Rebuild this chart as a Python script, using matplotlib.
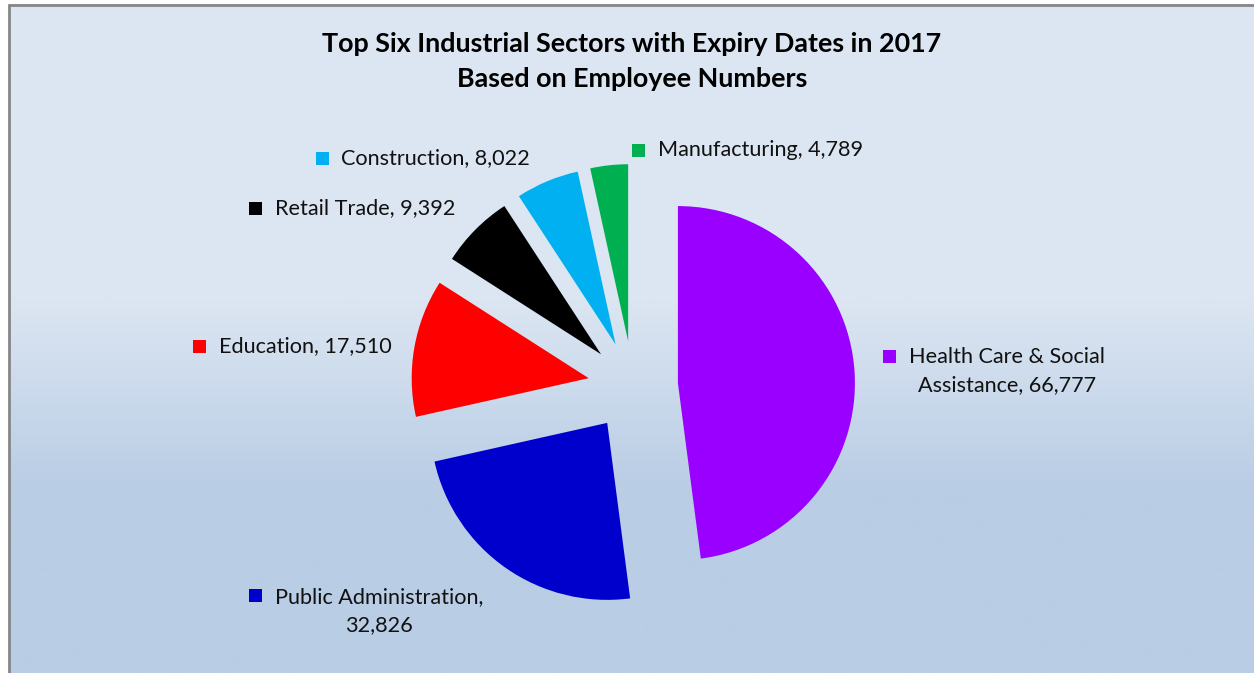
import numpy as np
import matplotlib
matplotlib.use('Agg')
import matplotlib.pyplot as plt
import matplotlib.patches as patches
from matplotlib.colors import LinearSegmentedColormap

# ---------- data
sectors = ['Health Care & Social\nAssistance', 'Public Administration,\n', 'Education',
           'Retail Trade', 'Construction', 'Manufacturing']
employees = [66777, 32826, 17510, 9392, 8022, 4789]
colors = ['#9900FF', '#0000CC', '#FF0000', '#000000', '#00B0F0', '#00B050']
title = 'Top Six Industrial Sectors with Expiry Dates in 2017\nBased on Employee Numbers'

# ---------- figure in pixel coords (y measured from bottom)
W, H = 1254, 673
fig = plt.figure(figsize=(W / 100, H / 100), dpi=100)
fig.patch.set_facecolor('white')
ax = fig.add_axes([0, 0, 1, 1])

def py(y):
    return H - y

# background gradient (light top, darker blue bottom)
bg = LinearSegmentedColormap.from_list('bg', [(0.0, '#DCE6F2'), (0.44, '#DCE6F2'),
                                              (0.72, '#B9CDE5'), (1.0, '#B9CDE5')])
grad = np.linspace(0, 1, 256).reshape(-1, 1)
ax.imshow(grad, cmap=bg, aspect='auto', extent=[8.5, W + 5, py(H + 5), py(4.5)],
          origin='upper', zorder=0)
ax.add_patch(patches.Rectangle((8.5, py(H + 5)), W, H + 0.5, fill=False,
                               edgecolor='#868686', linewidth=2, zorder=1))

# ---------- pie
ax.pie(employees, colors=colors, startangle=90, counterclock=False,
       explode=[45] * len(employees), radius=177, center=(633, py(386)),
       wedgeprops=dict(linewidth=0), frame=True)

ax.set_xlim(0, W)
ax.set_ylim(0, H)
ax.axis('off')

font = 'Lato'
ax.text(632, py(61.5), title, ha='center', va='center', fontsize=19.4,
        fontweight='bold', family=font, linespacing=1.55, zorder=5)

# ---------- labels with colored square keys
label_pos = [  # (square x, square y, text x, text y)
    (889, 356, 909, 371),
    (255, 595, 275, 611),
    (199, 346, 219, 346),
    (255, 208, 275, 208),
    (322, 158, 341, 158),
    (638, 150, 658, 150),
]
for name, val, c, (sx, sy, tx, ty) in zip(sectors, employees, colors, label_pos):
    if name.endswith('\n'):
        txt = name + f'{val:,}'
    elif '\n' in name:
        txt = name + f', {val:,}'
    else:
        txt = f'{name}, {val:,}'
    ax.add_patch(patches.Rectangle((sx - 6.5, py(sy) - 6.5), 13, 13,
                                   facecolor=c, edgecolor='none', zorder=5))
    ax.text(tx, py(ty), txt, ha='left', va='center', fontsize=15.6, family=font,
            multialignment='center', linespacing=1.45, color='#111111', zorder=5)

fig.savefig('out.png', dpi=100, facecolor='white')
